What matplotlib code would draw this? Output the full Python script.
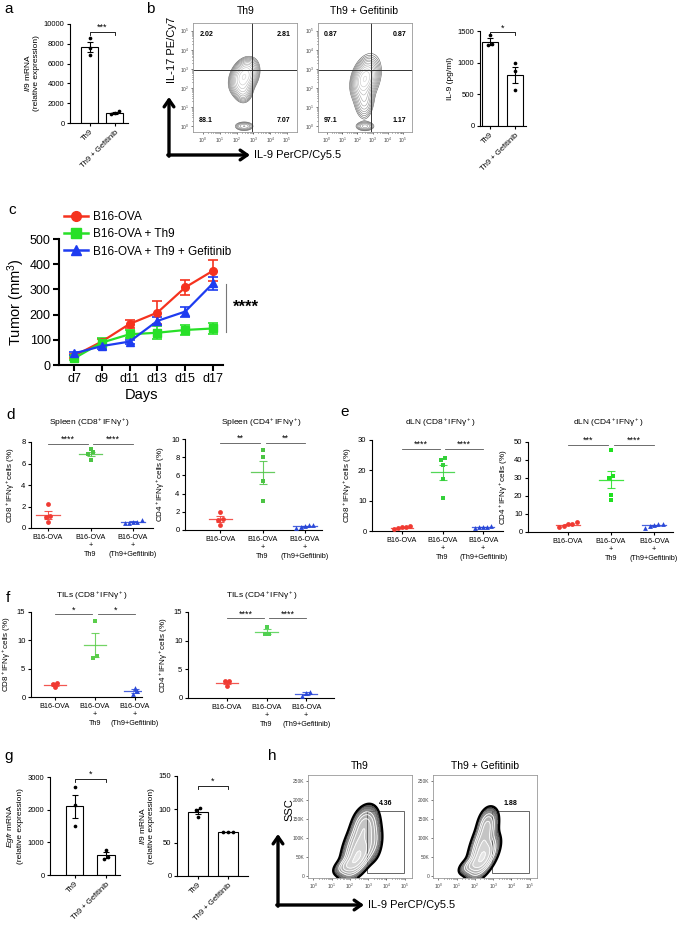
import numpy as np
import matplotlib.pyplot as plt
from matplotlib.patches import Rectangle
from matplotlib.lines import Line2D

plt.rcParams['font.family'] = ['Liberation Sans', 'DejaVu Sans']
plt.rcParams['mathtext.fontset'] = 'custom'
plt.rcParams['mathtext.rm'] = 'Liberation Sans'
plt.rcParams['mathtext.it'] = 'Liberation Sans:italic'
plt.rcParams['mathtext.bf'] = 'Liberation Sans:bold'

# ---------------- data ----------------
pair_labels = ['Th9', 'Th9 + Gefitinib']

# a: Il9 mRNA
a_th9 = [8600, 7600, 6830]
a_gef = [1180, 960, 940]

# b: IL-9 ELISA (pg/ml)
b_th9 = [1430, 1290, 1280]
b_gef = [990, 875, 565]
b_quad_th9 = ['2.02', '2.81', '88.1', '7.07']
b_quad_gef = ['0.87', '0.87', '97.1', '1.17']
# flow populations: (log IL-9, log IL-17, sd x, sd y, corr, weight)
b_pop_th9 = [(2.45, 2.6, 0.34, 0.38, 0.3, 1.0),
             (2.4, 1.9, 0.25, 0.3, 0.0, 0.25),
             (2.45, 0.0, 0.28, 0.12, 0.0, 0.12)]
b_pop_gef = [(2.5, 2.5, 0.34, 0.4, 0.3, 1.0),
             (2.45, 1.5, 0.28, 0.5, 0.0, 0.25),
             (2.5, 0.0, 0.3, 0.12, 0.0, 0.15),
             (2.6, 2.5, 0.55, 0.75, 0.3, 0.08)]

# c: tumour growth
c_days = ['d7', 'd9', 'd11', 'd13', 'd15', 'd17']
c_b16 = [36, 93, 163, 208, 308, 374]
c_b16_err = [8, 10, 16, 47, 31, 42]
c_th9 = [26, 89, 122, 128, 139, 145]
c_th9_err = [8, 19, 15, 25, 20, 20]
c_gef = [46, 75, 93, 175, 212, 324]
c_gef_err = [5, 10, 8, 15, 20, 26]

# d-f: IFNg+ cells (%)
groups = ['B16-OVA', 'B16-OVA\n+\nTh9', 'B16-OVA\n+\n(Th9+Gefitinib)']
spleen_cd8 = [[2.2, 1.1, 1.0, 0.55], [7.35, 7.05, 6.85, 6.3], [0.75, 0.6, 0.5, 0.45, 0.55]]
spleen_cd4 = [[2.0, 1.2, 1.1, 0.55], [8.8, 8.0, 5.4, 3.2], [0.5, 0.4, 0.2, 0.35, 0.5]]
dln_cd8 = [[1.5, 1.3, 1.0, 0.7, 1.2], [24.2, 23.3, 21.6, 17.0, 10.8], [1.5, 1.2, 1.0, 1.3, 1.4]]
dln_cd4 = [[5.5, 4.5, 3.0, 3.2, 4.2], [45.3, 31.2, 29.9, 20.6, 18.0], [4.6, 4.3, 3.8, 3.4, 2.4]]
til_cd8 = [[2.5, 2.3, 1.7], [13.5, 7.3, 6.8], [1.6, 1.0, 0.5]]
til_cd4 = [[3.0, 2.9, 2.1], [12.4, 11.2, 11.1], [1.1, 0.8, 0.3]]

# g: mRNA
g_egfr_th9 = [2690, 2130, 1490]
g_egfr_gef = [780, 540, 500]
g_il9_th9 = [102, 99.5, 88.5]
g_il9_gef = [66, 65.5, 66.5]

# h: SSC vs IL-9 (y in thousands)
h_pop_th9 = [(2.45, 50, 0.42, 26, 0.6, 1.0),
             (2.5, 95, 0.42, 32, 0.6, 0.6),
             (2.75, 140, 0.32, 22, 0.3, 0.35),
             (1.85, 28, 0.35, 12, 0.5, 0.35),
             (3.2, 105, 0.28, 32, 0.0, 0.25)]
h_pop_gef = [(2.45, 50, 0.38, 26, 0.6, 1.0),
             (2.45, 95, 0.36, 32, 0.65, 0.55),
             (2.65, 140, 0.25, 20, 0.3, 0.3),
             (1.8, 28, 0.33, 12, 0.5, 0.3)]
h_gate_x = [2.95, 4.95]
h_gate_y = [8, 172]
h_gate_pct = ['4.36', '1.88']

# ---------------- helpers ----------------
W, H = 685, 936
fig = plt.figure(figsize=(W / 100, H / 100), dpi=100)


def add_ax(x0, y0, x1, y1):
    return fig.add_axes([x0 / W, 1 - y1 / H, (x1 - x0) / W, (y1 - y0) / H])


def style(ax, labelsize=5.5, lw=0.8):
    for s in ['top', 'right']:
        ax.spines[s].set_visible(False)
    for s in ['left', 'bottom']:
        ax.spines[s].set_linewidth(lw)
    ax.tick_params(labelsize=labelsize, length=2.5, width=lw, pad=1.5)


def spread(vals, rng, step):
    vals = np.asarray(vals, float)
    order = np.argsort(vals)
    off = np.zeros(len(vals))
    grp = [[order[0]]]
    for k in order[1:]:
        if vals[k] - vals[grp[-1][-1]] < 0.035 * rng:
            grp[-1].append(k)
        else:
            grp.append([k])
    for g in grp:
        for j, k in enumerate(g):
            off[k] = (j - (len(g) - 1) / 2) * step
    return off


def density(X, Y, comps):
    Z = np.zeros_like(X)
    for cx, cy, sx, sy, rho, w in comps:
        u = (X - cx) / sx
        v = (Y - cy) / sy
        Z += w * np.exp(-(u * u - 2 * rho * u * v + v * v) / (2 * (1 - rho ** 2)))
    return Z


def bar_panel(rect, xlim, ylim, yticks, vals, ylabel, star, star_y, bw):
    ax = add_ax(*rect)
    style(ax)
    means = [np.mean(v) for v in vals]
    sems = [np.std(v, ddof=1) / np.sqrt(len(v)) for v in vals]
    ax.bar([0, 1], means, width=bw, color='white', edgecolor='black', linewidth=0.8, zorder=1)
    ax.errorbar([0, 1], means, yerr=sems, fmt='none', ecolor='black', elinewidth=0.8,
                capsize=2.2, capthick=0.8, zorder=2)
    for i, v in enumerate(vals):
        off = spread(v, ylim[1] - ylim[0], 0.16)
        ax.scatter(i + off, v, s=7, color='black', zorder=3, linewidths=0)
    d = (ylim[1] - ylim[0]) * 0.03
    ax.plot([0, 0, 1, 1], [star_y - d, star_y, star_y, star_y - d], color='black', lw=0.6, clip_on=False)
    ax.text(0.5, star_y, star, ha='center', va='bottom', fontsize=6.5)
    ax.set_xlim(*xlim)
    ax.set_ylim(*ylim)
    ax.set_yticks(yticks)
    ax.set_xticks([0, 1])
    ax.set_xticklabels(pair_labels, rotation=45, ha='right', va='top', rotation_mode='anchor', fontsize=5.5)
    ax.set_ylabel(ylabel, fontsize=6, labelpad=3)
    return ax


dot_colors = ['#f03a32', '#4cc444', '#2a48d8']
dot_markers = ['o', 's', '^']


def dot_panel(rect, xlim, ylim, yticks, data, ylabel, stars, star_y, green='#4cc444'):
    ax = add_ax(*rect)
    style(ax)
    cols = [dot_colors[0], green, dot_colors[2]]
    for i, vals in enumerate(data):
        vals = np.asarray(vals)
        off = spread(vals, ylim[1] - ylim[0], 0.1)
        ax.scatter(i + off, vals, s=12, marker=dot_markers[i], color=cols[i], zorder=3, linewidths=0)
        m = vals.mean()
        se = vals.std(ddof=1) / np.sqrt(len(vals))
        ax.plot([i - 0.28, i + 0.28], [m, m], color=cols[i], lw=0.9, alpha=0.85)
        ax.errorbar(i, m, yerr=se, fmt='none', ecolor=cols[i], capsize=2.6, elinewidth=0.8,
                    capthick=0.8, alpha=0.85)
    ax.plot([0, 0.93], [star_y] * 2, color='#555555', lw=0.6, clip_on=False)
    ax.plot([1.07, 2], [star_y] * 2, color='#555555', lw=0.6, clip_on=False)
    ax.text(0.47, star_y, stars[0], ha='center', va='bottom', fontsize=6.5)
    ax.text(1.53, star_y, stars[1], ha='center', va='bottom', fontsize=6.5)
    ax.set_xlim(*xlim)
    ax.set_ylim(*ylim)
    ax.set_yticks(yticks)
    ax.set_xticks([0, 1, 2])
    ax.set_xticklabels(groups, fontsize=5.2, linespacing=1.35)
    ax.set_ylabel(ylabel, fontsize=5.8, labelpad=3)
    return ax


def flow_frame(ax):
    ax.set_xticks(range(6))
    ax.set_xticks([n + np.log10(k) for n in range(5) for k in range(2, 10)], minor=True)
    ax.set_xticklabels(['10$^{%d}$' % n for n in range(6)])
    ax.tick_params(labelsize=3.5, length=1.6, width=0.5, pad=1, colors='#444444')
    ax.tick_params(which='minor', length=1, width=0.4)
    for s in ax.spines.values():
        s.set_color('#999999')
        s.set_linewidth(0.6)


def flow_b(rect, comps, quad, qx=2.9, qy=2.94):
    ax = add_ax(*rect)
    gx = np.linspace(-0.6, 5.6, 320)
    gy = np.linspace(-0.3, 5.4, 320)
    X, Y = np.meshgrid(gx, gy)
    Z = density(X, Y, comps)
    lv = Z.max() * np.geomspace(0.02, 0.95, 12)
    cols = [str(c) for c in np.linspace(0.35, 0.82, len(lv))]
    ax.contour(X, Y, Z, levels=lv, colors=cols, linewidths=0.4)
    ax.axvline(qx, color='#333333', lw=0.7)
    ax.axhline(qy, color='#333333', lw=0.7)
    ax.set_xlim(-0.6, 5.6)
    ax.set_ylim(-0.3, 5.4)
    flow_frame(ax)
    ax.set_yticks(range(6))
    ax.set_yticks([n + np.log10(k) for n in range(5) for k in range(2, 10)], minor=True)
    ax.set_yticklabels(['10$^{%d}$' % n for n in range(6)])
    kw = dict(fontsize=5, fontweight='bold', transform=ax.transAxes)
    ax.text(0.06, 0.93, quad[0], ha='left', va='top', **kw)
    ax.text(0.94, 0.93, quad[1], ha='right', va='top', **kw)
    ax.text(0.06, 0.07, quad[2], ha='left', va='bottom', **kw)
    ax.text(0.94, 0.07, quad[3], ha='right', va='bottom', **kw)
    return ax


def flow_h(rect, comps, pct):
    ax = add_ax(*rect)
    gx = np.linspace(-0.3, 5.4, 320)
    gy = np.linspace(-5, 266, 320)
    X, Y = np.meshgrid(gx, gy)
    Z = density(X, Y, comps)
    lv = Z.max() * np.geomspace(0.03, 0.92, 9)
    lv = np.append(lv, Z.max() * 1.01)
    fills = ['0.02', '0.32', '0.45', '0.55', '0.63', '0.7', '0.77', '0.83', '0.9']
    ax.contourf(X, Y, Z, levels=lv, colors=fills)
    ax.contour(X, Y, Z, levels=lv[:1], colors='black', linewidths=1.6)
    ax.contour(X, Y, Z, levels=lv[4:9], colors='white', linewidths=0.6)
    ax.add_patch(Rectangle((h_gate_x[0], h_gate_y[0]), h_gate_x[1] - h_gate_x[0],
                           h_gate_y[1] - h_gate_y[0], fill=False, ec='#666666', lw=0.7))
    ax.text(np.mean(h_gate_x), h_gate_y[1] + 10, pct, ha='center', va='bottom',
            fontsize=5, fontweight='bold')
    ax.set_xlim(-0.3, 5.4)
    ax.set_ylim(-5, 266)
    flow_frame(ax)
    ax.set_yticks([0, 50, 100, 150, 200, 250])
    ax.set_yticklabels(['0', '50K', '100K', '150K', '200K', '250K'])
    return ax


# ---------------- panels ----------------
bar_panel((70, 24, 128, 123), (-0.78, 1.54), (0, 10000), [0, 2000, 4000, 6000, 8000, 10000],
          [a_th9, a_gef], '$\\it{Il9}$ mRNA\n(relative expression)', '***', 9200, 0.68)

flow_b((193, 23, 297, 132), b_pop_th9, b_quad_th9)
flow_b((318, 23, 412, 132), b_pop_gef, b_quad_gef)

bar_panel((480, 31, 526, 126), (-0.4, 1.44), (0, 1500), [0, 500, 1000, 1500],
          [b_th9, b_gef], 'IL-9 (pg/ml)', '*', 1480, 0.64)

# c
ax = add_ax(59, 239, 223, 365)
style(ax, labelsize=9, lw=1.5)
ax.tick_params(length=4, pad=2)
xs = np.arange(len(c_days))
handles = []
for y, e, col, mk, lab in [(c_b16, c_b16_err, '#f5321e', 'o', 'B16-OVA'),
                           (c_th9, c_th9_err, '#28e028', 's', 'B16-OVA + Th9'),
                           (c_gef, c_gef_err, '#1e3cf0', '^', 'B16-OVA + Th9 + Gefitinib')]:
    ax.errorbar(xs, y, yerr=e, color=col, marker=mk, ms=5.5, lw=1.6, capsize=3.5,
                elinewidth=1.2, capthick=1.2)
    handles.append(Line2D([], [], color=col, marker=mk, ms=7, lw=1.8, label=lab))
ax.set_xlim(-0.54, 5.36)
ax.set_ylim(0, 500)
ax.set_yticks([0, 100, 200, 300, 400, 500])
ax.set_xticks(xs)
ax.set_xticklabels(c_days)
ax.set_ylabel('Tumor (mm$^3$)', fontsize=10.5, labelpad=2)
ax.set_xlabel('Days', fontsize=10.5, labelpad=2)
ax.legend(handles=handles, loc='upper left', bbox_to_anchor=(58 / W, 1 - 205 / H),
          bbox_transform=fig.transFigure, frameon=False, fontsize=8.5, handlelength=2.0,
          labelspacing=0.45, borderpad=0, handletextpad=0.5)
ax.plot([5.45, 5.45], [130, 320], color='#777777', lw=0.8, clip_on=False)
ax.text(5.7, 230, '****', fontsize=12, fontweight='bold', va='center', ha='left')

# d
dot_panel((31, 442, 153, 528), (-0.4, 2.47), (0, 8), [0, 2, 4, 6, 8], spleen_cd8,
          'CD8$^+$IFNγ$^+$cells (%)', ['****', '****'], 7.8)
dot_panel((185, 439, 322, 530), (-0.84, 2.41), (0, 10), [0, 2, 4, 6, 8, 10], spleen_cd4,
          'CD4$^+$IFNγ$^+$cells (%)', ['**', '**'], 9.6)
# e
dot_panel((372, 440, 503, 531), (-0.74, 2.49), (0, 30), [0, 10, 20, 30], dln_cd8,
          'CD8$^+$IFNγ$^+$cells (%)', ['****', '****'], 27, green='#34d03a')
dot_panel((528, 442, 673, 532), (-0.93, 2.44), (0, 50), [0, 10, 20, 30, 40, 50], dln_cd4,
          'CD4$^+$IFNγ$^+$cells (%)', ['***', '****'], 48.5, green='#20e020')
# f
dot_panel((31, 612, 142, 697), (-0.6, 2.18), (0, 15), [0, 5, 10, 15], til_cd8,
          'CD8$^+$IFNγ$^+$cells (%)', ['*', '*'], 14.6, green='#5acd4a')
dot_panel((188, 612, 334, 698), (-0.98, 2.7), (0, 15), [0, 5, 10, 15], til_cd4,
          'CD4$^+$IFNγ$^+$cells (%)', ['****', '****'], 13.9, green='#50d050')

# g
bar_panel((50, 777, 120, 875), (-0.8, 1.45), (0, 3000), [0, 1000, 2000, 3000],
          [g_egfr_th9, g_egfr_gef], '$\\it{Egfr}$ mRNA\n(relative expression)', '*', 2950, 0.55)
bar_panel((177, 776, 248, 876), (-0.7, 1.67), (0, 150), [0, 50, 100, 150],
          [g_il9_th9, g_il9_gef], '$\\it{Il9}$ mRNA\n(relative expression)', '*', 135, 0.67)

# h
flow_h((308, 775, 412, 878), h_pop_th9, h_gate_pct[0])
flow_h((433, 775, 537, 878), h_pop_gef, h_gate_pct[1])

# ---------------- overlay: letters, titles, arrows ----------------
ov = fig.add_axes([0, 0, 1, 1])
ov.axis('off')
ov.set_xlim(0, W)
ov.set_ylim(H, 0)

for lt, x, y in [('a', 4, 9), ('b', 146, 9), ('c', 8, 210), ('d', 6, 415), ('e', 340, 412),
                 ('f', 6, 598), ('g', 4, 756), ('h', 268, 756)]:
    ov.text(x, y, lt, fontsize=11, ha='left', va='center')

for t, x, y in [('Th9', 246, 11), ('Th9 + Gefitinib', 364, 11),
                ('Th9', 360, 766), ('Th9 + Gefitinib', 485, 766)]:
    ov.text(x, y, t, fontsize=7.5, ha='center', va='center')

for t, x, y in [('Spleen (CD8$^+$IFNγ$^+$)', 90, 423), ('Spleen (CD4$^+$IFNγ$^+$)', 262, 423),
                ('dLN (CD8$^+$IFNγ$^+$)', 440, 423), ('dLN (CD4$^+$IFNγ$^+$)', 608, 423),
                ('TILs (CD8$^+$IFNγ$^+$)', 92, 596), ('TILs (CD4$^+$IFNγ$^+$)', 262, 596)]:
    ov.text(x, y, t, fontsize=6, ha='center', va='center')

arrow = dict(arrowstyle='->,head_length=0.5,head_width=0.35', lw=2.4, color='black',
             shrinkA=0, shrinkB=0)
ov.annotate('', xy=(169, 97), xytext=(169, 156.2), arrowprops=arrow)
ov.annotate('', xy=(250, 155), xytext=(167.8, 155), arrowprops=arrow)
ov.text(172, 50, 'IL-17 PE/Cy7', rotation=90, fontsize=8, ha='center', va='center')
ov.text(254, 155, 'IL-9 PerCP/Cy5.5', fontsize=8, ha='left', va='center')

ov.annotate('', xy=(278, 834), xytext=(278, 906.2), arrowprops=arrow)
ov.annotate('', xy=(364, 905), xytext=(276.8, 905), arrowprops=arrow)
ov.text(289, 810, 'SSC', rotation=90, fontsize=8, ha='center', va='center')
ov.text(368, 905, 'IL-9 PerCP/Cy5.5', fontsize=8, ha='left', va='center')

fig.savefig('out.png', dpi=100)
